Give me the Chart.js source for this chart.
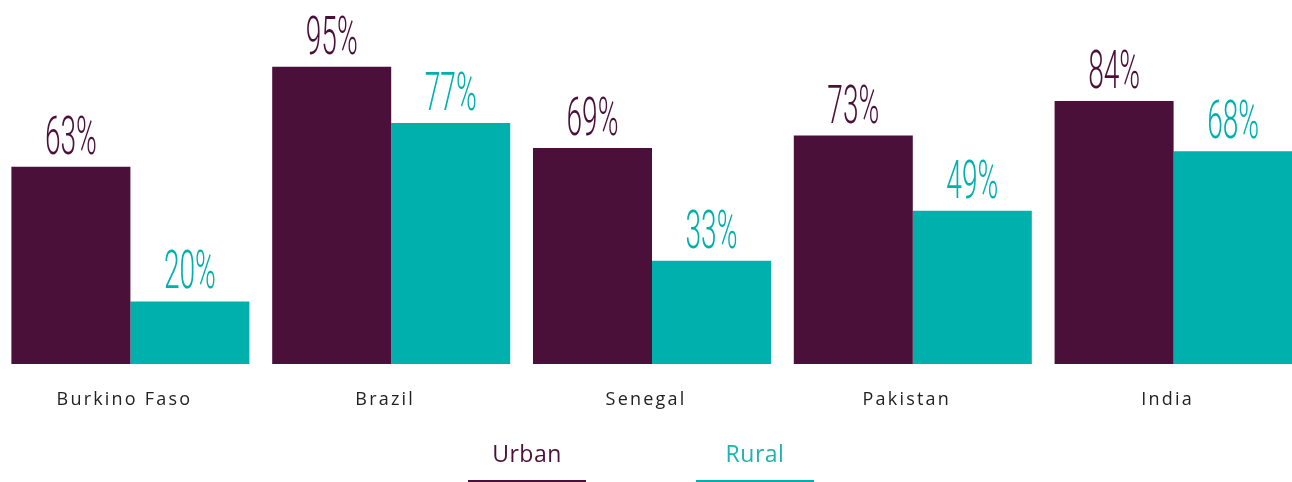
<!DOCTYPE html>
<html>
<head>
<meta charset="utf-8">
<script src="https://cdn.jsdelivr.net/npm/chart.js@4.4.1/dist/chart.umd.min.js"></script>
<style>
    html, body {
        margin: 0;
        padding: 0;
        background: #ffffff;
        overflow: hidden;
    }
    #wrap {
        position: relative;
        width: 1304px;
        height: 482px;
    }
    .legend-item {
        position: absolute;
        top: 436px;
        width: 118px;
        height: 44px;
        border-bottom: 3px solid;
        font-family: "Open Sans", sans-serif;
        font-size: 23px;
        letter-spacing: 0.5px;
        text-align: center;
        line-height: 34px;
    }
</style>
</head>
<body>
<div id="wrap">
    <canvas id="chart" width="1304" height="482"></canvas>
    <div class="legend-item" style="left:468px; color:#4a1039; border-color:#4a1039;">Urban</div>
    <div class="legend-item" style="left:696px; color:#1db3ae; border-color:#00b0ad;">Rural</div>
</div>
<script>
const countries = ["Burkino Faso", "Brazil", "Senegal", "Pakistan", "India"];
const urbanValues = [63, 95, 69, 73, 84];
const ruralValues = [20, 77, 33, 49, 68];

const urbanColor = "#4a1039";
const ruralColor = "#00b0ad";

// draws the condensed percentage labels above each bar
const valueLabels = {
    id: "valueLabels",
    beforeDraw(chart) {
        chart.ctx.letterSpacing = "2.2px";
    },
    afterDatasetsDraw(chart) {
        const ctx = chart.ctx;
        ctx.save();
        ctx.letterSpacing = "0px";
        chart.data.datasets.forEach((ds, i) => {
            const meta = chart.getDatasetMeta(i);
            meta.data.forEach((bar, j) => {
                ctx.save();
                ctx.translate(bar.x, bar.y - 13);
                ctx.scale(0.53, 1);
                ctx.font = "300 53px Roboto";
                ctx.fillStyle = ds.backgroundColor;
                ctx.textAlign = "center";
                ctx.textBaseline = "alphabetic";
                ctx.fillText(ds.data[j] + "%", 0, 0);
                ctx.restore();
            });
        });
        ctx.restore();
    },
};

new Chart(document.getElementById("chart"), {
    type: "bar",
    data: {
        labels: countries,
        datasets: [
            { label: "Urban", data: urbanValues, backgroundColor: urbanColor },
            { label: "Rural", data: ruralValues, backgroundColor: ruralColor },
        ],
    },
    options: {
        responsive: false,
        animation: false,
        categoryPercentage: 0.9126,
        barPercentage: 1,
        layout: { padding: { top: 51, left: 0, right: 0, bottom: 0 } },
        plugins: {
            legend: { display: false },
            tooltip: { enabled: false },
        },
        scales: {
            x: {
                grid: { display: false, drawTicks: false },
                border: { display: false },
                ticks: {
                    color: "#222222",
                    padding: 25,
                    labelOffset: -6,
                    font: { family: "Open Sans", size: 18 },
                },
                afterFit(scale) {
                    scale.height = 118;
                },
            },
            y: {
                display: false,
                min: 0,
                max: 100,
            },
        },
    },
    plugins: [valueLabels],
});
</script>
</body>
</html>
